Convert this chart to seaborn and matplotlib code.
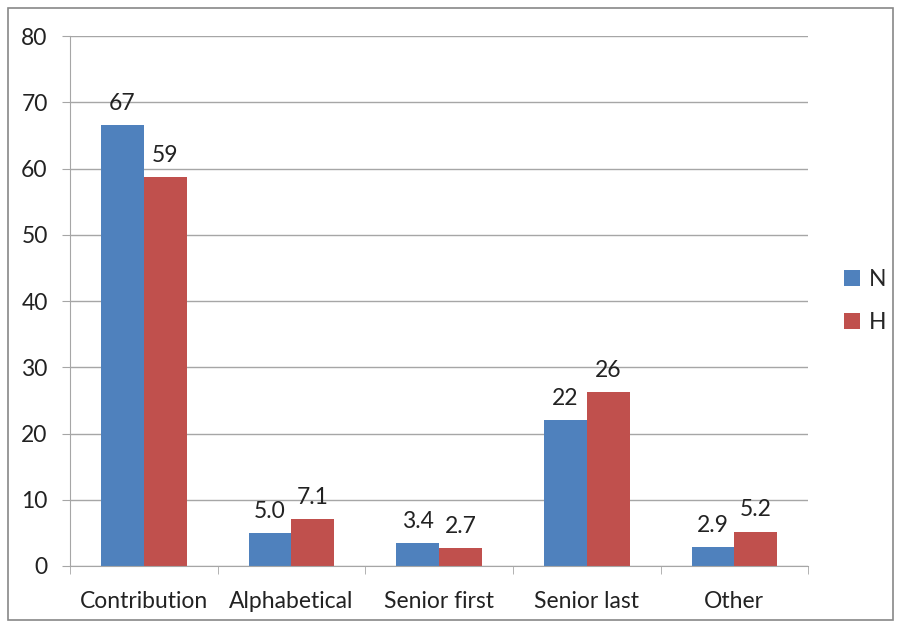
import pandas as pd
import matplotlib.pyplot as plt
import seaborn as sns
from matplotlib.patches import Rectangle

# data
categories = ["Contribution", "Alphabetical", "Senior first", "Senior last", "Other"]
n_values = [66.6, 5.0, 3.4, 22.0, 2.9]
h_values = [58.7, 7.1, 2.7, 26.2, 5.2]
n_labels = ["67", "5.0", "3.4", "22", "2.9"]
h_labels = ["59", "7.1", "2.7", "26", "5.2"]
y_ticks = [0, 10, 20, 30, 40, 50, 60, 70, 80]

df = pd.DataFrame({
    "category": categories * 2,
    "value": n_values + h_values,
    "series": ["N"] * len(categories) + ["H"] * len(categories),
})

sns.set_style("white")
plt.rcParams["font.family"] = ["Lato", "DejaVu Sans"]

fig = plt.figure(figsize=(8.97, 6.24), dpi=100)
ax = fig.add_axes([0.078, 0.093, 0.823, 0.849])

pal = {"N": "#4F81BD", "H": "#C0504D"}
sns.barplot(data=df, x="category", y="value", hue="series", palette=pal,
            width=0.58, gap=0, saturation=1, linewidth=0, ax=ax, legend=True)

# data labels
for cont, labels in zip(ax.containers, [n_labels, h_labels]):
    ax.bar_label(cont, labels=labels, padding=8, fontsize=16.5, color="#222222")

ax.set_ylim(0, 80)
ax.set_yticks(y_ticks)
ax.set_xlim(-0.5, len(categories) - 0.5)
ax.yaxis.grid(True, color="#A6A6A6", linewidth=1)
ax.set_axisbelow(True)
ax.set_xlabel("")
ax.set_ylabel("")

for side in ["top", "right"]:
    ax.spines[side].set_visible(False)
ax.spines["left"].set_color("#A6A6A6")
ax.spines["bottom"].set_color("#A6A6A6")

# tick marks between the categories
ax.set_xticks([i + 0.5 for i in range(-1, len(categories))], minor=True)
ax.tick_params(axis="x", which="major", length=0, labelsize=16.5, pad=18, labelcolor="#222222")
ax.tick_params(axis="x", which="minor", length=6, color="#A6A6A6", direction="out", bottom=True)
ax.tick_params(axis="y", length=6, color="#A6A6A6", labelsize=16.5, pad=10, labelcolor="#222222", left=True)

leg = ax.legend(loc="center left", bbox_to_anchor=(1.02, 0.5), frameon=False,
                fontsize=16.5, handlelength=0.7, handleheight=0.7, handletextpad=0.4,
                labelspacing=0.95)

# outer chart border
fig.patches.append(Rectangle((0.009, 0.006), 0.987, 0.981, transform=fig.transFigure,
                             fill=False, edgecolor="#888888", linewidth=1.2))

fig.savefig("out.png", dpi=100)
